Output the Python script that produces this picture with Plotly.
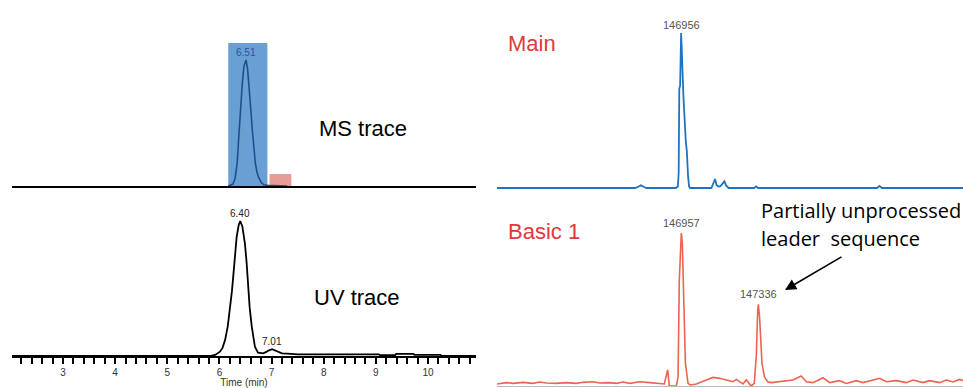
import plotly.graph_objects as go

W, H = 963, 388

# ---------------- LC-MS / LC-UV chromatograms (time in min, relative intensity) ----------------
ms_time = [6.17, 6.22, 6.26, 6.30, 6.34, 6.37, 6.40, 6.44, 6.47, 6.51, 6.54, 6.56, 6.60,
           6.63, 6.66, 6.69, 6.72, 6.75, 6.80, 6.85, 6.92, 7.00, 7.10, 7.30]
ms_int = [0, 0.5, 1.5, 6, 18, 38, 60, 82, 95, 100, 93, 84, 62,
          45, 30, 18, 11, 7, 3, 1, 0.5, 0.3, 0.2, 0]
ms_peak_label = "6.51"

uv_time = [2.02, 5.60, 5.85, 5.92, 6.01, 6.06, 6.11, 6.16, 6.20, 6.24, 6.27, 6.30, 6.33, 6.37,
           6.40, 6.44, 6.49, 6.52, 6.55, 6.58, 6.62, 6.65, 6.68, 6.74, 6.80, 6.84, 6.90, 6.94,
           7.01, 7.06, 7.10, 7.20, 7.30, 7.48, 7.50, 9.06, 9.08, 9.37, 9.39, 9.72, 9.74,
           10.24, 10.26, 10.92]
uv_int = [0, 0, 0.3, 0.8, 3.2, 6, 12, 22, 34, 48, 61, 75, 88, 97,
          100, 96, 83, 70, 51, 36, 22, 13, 7, 2.5, 2, 2, 3, 4,
          5, 4.3, 3.2, 2, 1.8, 1.7, 1.2, 1.2, 0.6, 0.6, 1.5, 1.5, 0.9,
          0.9, 0, 0]
uv_peak_times = [6.40, 7.01]
uv_peak_ints = [100, 5]

# fraction windows collected from the MS trace: (start, end, height)
main_window = [6.17, 6.92, 113.5]
side_window = [6.96, 7.38, 9.5]

time_range = [2.022, 10.921]
time_ticks = [3, 4, 5, 6, 7, 8, 9, 10]

# ---------------- deconvoluted mass spectra (mass in Da, relative intensity) ----------------
main_mass = [146050, 146730, 146745, 146758, 146771, 146785, 146930, 146940, 146944, 146947,
             146951, 146954, 146956, 146959, 146963, 146967, 146971, 146974, 146979, 146984,
             146987, 146990, 146995, 147000, 147105, 147116, 147123, 147130, 147140, 147150,
             147160, 147169, 147178, 147190, 147315, 147325, 147335, 147920, 147932, 147944,
             148343]
main_int = [0, 0, 0.8, 1.7, 0.8, 0, 0, 1, 10, 64,
            66, 96, 100, 90, 70, 60, 50, 40, 30, 24,
            14, 8, 1, 0, 0, 3, 5.8, 2, 1, 1.2,
            2.5, 4.3, 1.5, 0, 0, 1, 0, 0, 1.3, 0,
            0]

basic_mass = [146050, 146096, 146129, 146178, 146227, 146260, 146293, 146342, 146391, 146440,
              146473, 146522, 146555, 146604, 146637, 146670, 146703, 146752, 146801, 146850,
              146873, 146890, 146898, 146932, 146941, 146947, 146957, 146962, 146968, 146977,
              146990, 147001, 147031, 147064, 147080, 147113, 147146, 147178, 147211, 147228,
              147260, 147277, 147300, 147316, 147326, 147333, 147336, 147342, 147346, 147354,
              147366, 147382, 147400, 147441, 147506, 147547, 147572, 147605, 147654, 147687,
              147736, 147769, 147818, 147851, 147933, 147966, 148015, 148064, 148097, 148146,
              148179, 148228, 148261, 148294, 148326, 148343]
basic_int = [1.3, 2.2, 1.7, 2.4, 1.7, 2.6, 2.0, 1.7, 2.2, 1.7,
             2.4, 2.8, 2.0, 2.2, 1.7, 2.6, 1.7, 2.8, 2.2, 1.7,
             1.3, 10.5, 0, 0, 6, 69, 100, 93, 52, 15,
             1.7, 0.7, 1.3, 2.8, 3.9, 5.6, 5.0, 3.9, 2.8, 4.3,
             1.3, 4.0, 0, 1.7, 20, 50, 53.3, 45, 34, 14.8,
             6, 2.8, 2.2, 2.8, 3.9, 6.5, 2.8, 2.2, 5.4, 2.2,
             3.5, 1.7, 3.5, 2.2, 5.0, 2.8, 3.5, 2.2, 3.9, 2.2,
             3.5, 2.2, 3.9, 2.6, 4.3, 3.5]
main_peak = [146956, 100]
basic_peaks_mass = [146957, 147336]
basic_peaks_int = [100, 53.3]

mass_range = [146050, 148343]

RED = "#e2383c"
ARIAL = "Liberation Sans"


def px(x):
    return x / W


def py(y):
    return 1 - y / H


def yrange(bottom_px, top_px, zero_px, scale):
    """Value range for a y axis whose domain spans bottom_px..top_px,
    with 0 drawn at zero_px and `scale` pixels per unit."""
    return [-(bottom_px - zero_px) / scale, (zero_px - top_px) / scale]


fig = go.Figure()

# MS trace (top-left)
fig.add_trace(go.Scatter(x=ms_time, y=ms_int, mode="lines", xaxis="x", yaxis="y",
                         line=dict(color="#1d4f8f", width=1.6), hoverinfo="skip"))
# UV trace (bottom-left)
fig.add_trace(go.Scatter(x=uv_time, y=uv_int, mode="lines", xaxis="x2", yaxis="y2",
                         line=dict(color="black", width=1.8), hoverinfo="skip"))
# Main spectrum (top-right)
fig.add_trace(go.Scatter(x=main_mass, y=main_int, mode="lines", xaxis="x3", yaxis="y3",
                         line=dict(color="#1f74c2", width=1.8), hoverinfo="skip"))
# Basic 1 spectrum (bottom-right)
fig.add_trace(go.Scatter(x=basic_mass, y=basic_int, mode="lines", xaxis="x4", yaxis="y4",
                         line=dict(color="#ea6450", width=1.6), hoverinfo="skip"))

# collection windows
fig.add_shape(type="rect", xref="x", yref="y", x0=main_window[0], x1=main_window[1],
              y0=0, y1=main_window[2], fillcolor="#6a9fd4", line=dict(width=0), layer="below")
fig.add_shape(type="rect", xref="x", yref="y", x0=side_window[0], x1=side_window[1],
              y0=0, y1=side_window[2], fillcolor="#e79d97", line=dict(width=0), layer="below")

hidden = dict(visible=False, showgrid=False, zeroline=False)

fig.update_layout(
    width=W, height=H,
    margin=dict(l=0, r=0, t=0, b=0),
    paper_bgcolor="white", plot_bgcolor="white",
    showlegend=False,
    font=dict(family=ARIAL, color="#333"),
    xaxis=dict(domain=[px(12), px(476)], range=time_range, anchor="y",
               showline=True, linecolor="black", linewidth=2, ticks="",
               showticklabels=False, showgrid=False, zeroline=False),
    yaxis=dict(domain=[py(186), py(35)], range=yrange(186, 35, 186, 1.26),
               anchor="x", **hidden),
    xaxis2=dict(domain=[px(12), px(476)], range=time_range, anchor="y2",
                showline=True, linecolor="black", linewidth=2,
                ticks="outside", ticklen=6, tickwidth=1.5, tickcolor="black",
                tickvals=time_ticks, ticktext=[str(t) for t in time_ticks],
                tickfont=dict(size=10, color="#333", family=ARIAL),
                minor=dict(dtick=0.2, tick0=0, ticks="outside", ticklen=6,
                           tickwidth=1.5, tickcolor="black", showgrid=False),
                title=dict(text="Time (min)", font=dict(size=10, color="#333", family=ARIAL),
                           standoff=3),
                showgrid=False, zeroline=False),
    yaxis2=dict(domain=[py(356), py(205)], range=yrange(356, 205, 356, 1.35),
                anchor="x2", **hidden),
    xaxis3=dict(domain=[px(497), 1], range=mass_range, anchor="y3", **hidden),
    yaxis3=dict(domain=[py(191), py(22)], range=yrange(191, 22, 188, 1.55),
                anchor="x3", **hidden),
    xaxis4=dict(domain=[px(497), 1], range=mass_range, anchor="y4",
                showline=True, linecolor="#b8bcc2", linewidth=1, ticks="",
                showticklabels=False, showgrid=False, zeroline=False),
    yaxis4=dict(domain=[py(386), py(200)], range=yrange(386, 200, 386, 1.53),
                anchor="x4", **hidden),
)

ann = []
# peak labels
ann.append(dict(x=ms_time[ms_int.index(max(ms_int))], y=max(ms_int), xref="x", yref="y",
                text=ms_peak_label, showarrow=False, yanchor="bottom", yshift=0,
                font=dict(size=10, color="#24589a", family=ARIAL)))
for t, v in zip(uv_peak_times, uv_peak_ints):
    ann.append(dict(x=t, y=v, xref="x2", yref="y2", text=f"{t:.2f}", showarrow=False,
                    yanchor="bottom", yshift=0, font=dict(size=10, color="#222", family=ARIAL)))
ann.append(dict(x=main_peak[0], y=main_peak[1], xref="x3", yref="y3", text=str(main_peak[0]),
                showarrow=False, yanchor="bottom", yshift=0,
                font=dict(size=11, color="#555", family=ARIAL)))
for m, v in zip(basic_peaks_mass, basic_peaks_int):
    ann.append(dict(x=m, y=v, xref="x4", yref="y4", text=str(m), showarrow=False,
                    yanchor="bottom", yshift=2, font=dict(size=11, color="#555", family=ARIAL)))

# panel titles
ann.append(dict(x=px(317), y=py(129), xref="paper", yref="paper", text="MS trace",
                showarrow=False, xanchor="left", yanchor="middle",
                font=dict(size=22, color="black", family=ARIAL)))
ann.append(dict(x=px(312), y=py(297), xref="paper", yref="paper", text="UV trace",
                showarrow=False, xanchor="left", yanchor="middle",
                font=dict(size=22, color="black", family=ARIAL)))
ann.append(dict(x=px(506), y=py(43), xref="paper", yref="paper", text="Main",
                showarrow=False, xanchor="left", yanchor="middle",
                font=dict(size=22, color=RED, family=ARIAL)))
ann.append(dict(x=px(506), y=py(231), xref="paper", yref="paper", text="Basic 1",
                showarrow=False, xanchor="left", yanchor="middle",
                font=dict(size=22, color=RED, family=ARIAL)))

# call-out for the +379 Da species
ann.append(dict(x=px(759), y=py(211), xref="paper", yref="paper", text="Partially unprocessed",
                showarrow=False, xanchor="left", yanchor="middle",
                font=dict(size=20, color="black", family="Open Sans")))
ann.append(dict(x=px(759), y=py(238), xref="paper", yref="paper", text="leader&nbsp;&nbsp;sequence",
                showarrow=False, xanchor="left", yanchor="middle",
                font=dict(size=20, color="black", family="Open Sans")))
ann.append(dict(x=px(785), y=py(290), xref="paper", yref="paper", text="",
                showarrow=True, ax=58, ay=-34, arrowhead=2, arrowsize=1.4,
                arrowwidth=1.6, arrowcolor="black"))

fig.update_layout(annotations=ann)

fig.write_html("out.html")
